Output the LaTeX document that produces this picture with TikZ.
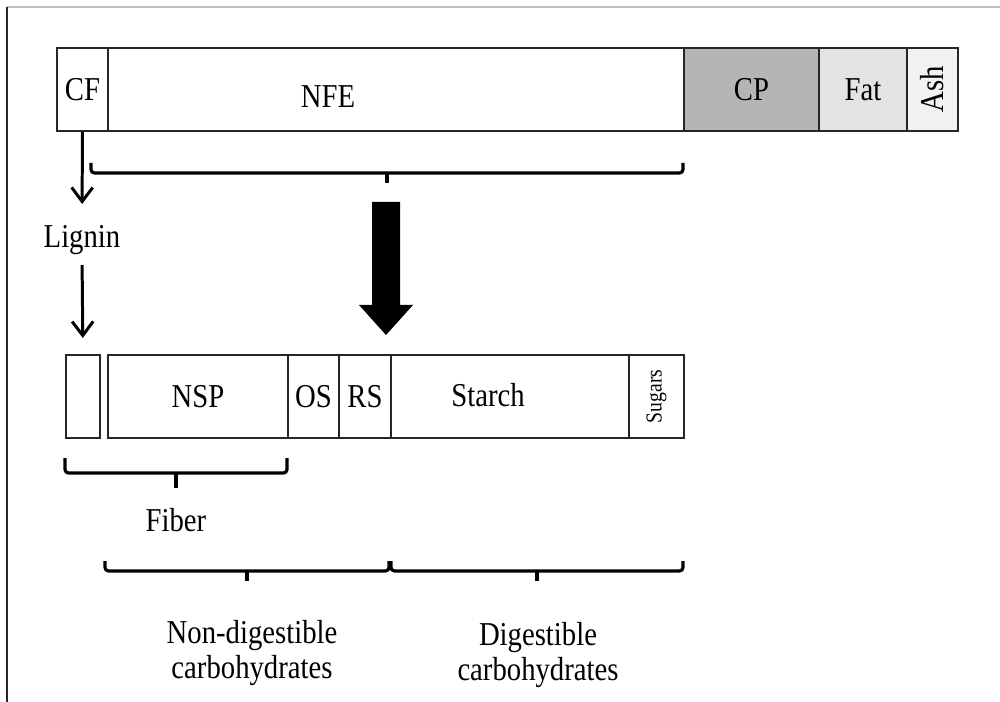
\documentclass[tikz,border=0pt]{standalone}
\usepackage{fontspec}
\setmainfont[FakeStretch=0.86]{Liberation Serif}
\usetikzlibrary{arrows.meta,positioning}

\tikzset{
  box/.style={draw=black!85, line width=1.1pt, minimum height=1.66cm, inner sep=0pt, anchor=north west, font=\fontsize{19}{22}\selectfont},
  txt/.style={font=\fontsize{19}{20}\selectfont, inner sep=0pt, align=center},
  brace/.style={line width=1.8pt, rounded corners=2pt},
  tick/.style={line width=1.8pt},
  arr/.style={line width=1.7pt, -{Straight Barb[length=8pt,width=12pt]}},
}

\begin{document}
\begin{tikzpicture}[x=0.02cm, y=-0.02cm]
    \useasboundingbox (0,0) rectangle (1000,702);
    % frame of the slide
    \draw[black!25, line width=1pt] (7,7) -- (1000,7);
    \draw[black!85, line width=1.2pt] (7,7) -- (7,702);

    % top bar
    \node[box, minimum width=1.02cm] (cf) at (56,47) {\raisebox{-2pt}{CF}};
    \node[box, minimum width=11.52cm] (nfe) at (107,47) {};
    \node[txt] (nfelbl) at (328,97) {NFE};
    \node[box, minimum width=2.7cm, fill=black!29] (cp) at (683,47) {\raisebox{-3pt}{CP}};
    \node[box, minimum width=1.76cm, fill=black!11] (fat) at (818,47) {\raisebox{-3pt}{Fat}};
    \node[box, minimum width=1.02cm, fill=black!5] (ash) at (906,47) {\rotatebox{90}{Ash}};

    \draw[brace] (91,163) -- (91,173) -- (683,173) -- (683,163);
    \draw[tick] (387,173) -- (387,183);

    % big arrow
    \fill (372,202) -- (400,202) -- (400,305) -- (413,305) -- (386,335)
          -- (359,305) -- (372,305) -- cycle;

    % lignin
    \node[txt] (lignin) at (82,240) {Lignin};

    % bottom bar
    \node[box, minimum width=0.68cm] (lig) at (65,354) {};
    \node[box, minimum width=3.6cm] (nsp) at (107,354) {NSP};
    \node[box, minimum width=1.02cm] (os) at (287,354) {OS};
    \node[box, minimum width=1.04cm] (rs) at (338,354) {RS};
    \node[box, minimum width=4.76cm] (starch) at (390,354) {};
    \node[txt] (starchlbl) at (488,395) {Starch};
    \node[box, minimum width=1.1cm, font=\fontsize{13}{14}\selectfont] (sugars) at (628,354) {\rotatebox{90}{Sugars}};

    \draw[arr, shorten >=0.42cm] (cf.south) -- (lignin.north);
    \draw[arr, shorten <=0.2cm, shorten >=0.32cm] (lignin.south) -- (lig.north);

    % fiber
    \draw[brace] (65,458) -- (65,473) -- (287,473) -- (287,458);
    \draw[tick] (176,473) -- (176,488);
    \node[txt] (fiber) at (176,520) {Fiber};

    % carbohydrates
    \draw[brace] (105,561) -- (105,571) -- (389,571) -- (389,561);
    \draw[brace] (391,561) -- (391,571) -- (683,571) -- (683,561);
    \draw[tick] (247,571) -- (247,581);
    \draw[tick] (537,571) -- (537,581);
    \node[txt] (nondig) at (252,653) {Non-digestible\\carbohydrates};
    \node[txt] (dig) at (538,655) {Digestible\\carbohydrates};

\end{tikzpicture}
\end{document}
